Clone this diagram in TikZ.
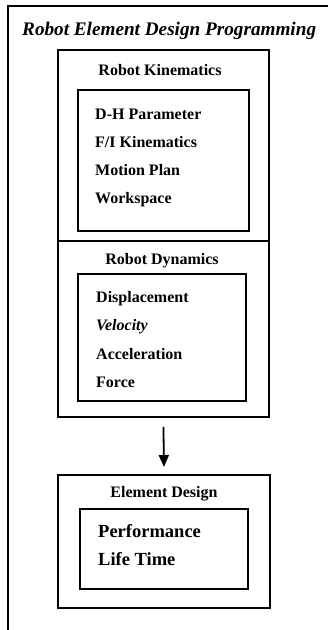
\documentclass[tikz,border=0pt]{standalone}
\usepackage{fontspec}
\setmainfont{Liberation Serif}
\usetikzlibrary{arrows.meta}
\tikzset{
  boxline/.style={draw=black, line width=1.9pt, rectangle, inner sep=0pt, anchor=north west},
  item/.style={font=\fontsize{16}{18}\selectfont\bfseries, anchor=mid west, inner sep=0pt},
  head/.style={font=\fontsize{16}{18}\selectfont\bfseries, anchor=mid, inner sep=0pt},
  bigitem/.style={font=\fontsize{18.5}{20}\selectfont\bfseries, anchor=mid west, inner sep=0pt},
  flow/.style={line width=1.8pt, -{Triangle[length=12pt,width=10pt]}}
}
\begin{document}
\begin{tikzpicture}[x=1pt,y=-1pt]
\useasboundingbox (0,0) rectangle (328,630);
% outer frame (cropped: top and left sides only)
\coordinate (frameTL) at (8,6);
\coordinate (frameTR) at (328,6);
\coordinate (frameBL) at (8,630);
\draw[line width=1.9pt] (frameTR) -- (frameTL) -- (frameBL);
\node[font=\fontsize{19.2}{21}\selectfont\bfseries\itshape, anchor=mid west, inner sep=0pt] (title) at (22,33) {Robot Element Design Programming};

% kinematics
\node[boxline, minimum width=211pt, minimum height=191pt] (kin) at (57,49) {};
\node[head] (kinT) at (160,73) {Robot Kinematics};
\node[boxline, minimum width=171pt, minimum height=141pt] (kinIn) at (77,89) {};
\node[item] (k1) at (95,117) {D-H Parameter};
\node[item] (k2) at (95,145) {F/I Kinematics};
\node[item] (k3) at (95,173) {Motion Plan};
\node[item] (k4) at (95,201) {Workspace};

% dynamics
\node[boxline, minimum width=211pt, minimum height=176pt] (dyn) at (57,240) {};
\node[head] (dynT) at (162,262) {Robot Dynamics};
\node[boxline, minimum width=168pt, minimum height=127pt] (dynIn) at (77,273) {};
\node[item] (d1) at (96,300) {Displacement};
\node[item, font=\fontsize{16}{18}\selectfont\bfseries\itshape] (d2) at (96,328) {Velocity};
\node[item] (d3) at (96,357) {Acceleration};
\node[item] (d4) at (96,385) {Force};

% element design
\node[boxline, minimum width=212pt, minimum height=133pt] (elem) at (57,474) {};
\node[head] (elemT) at (164,495) {Element Design};
\node[boxline, minimum width=168pt, minimum height=80pt] (elemIn) at (79,508) {};
\node[bigitem] (e1) at (98,535) {Performance};
\node[bigitem] (e2) at (98,563) {Life Time};

\draw[flow] ([yshift=-9pt]dyn.south) -- ([yshift=7pt]elem.north);
\end{tikzpicture}
\end{document}
